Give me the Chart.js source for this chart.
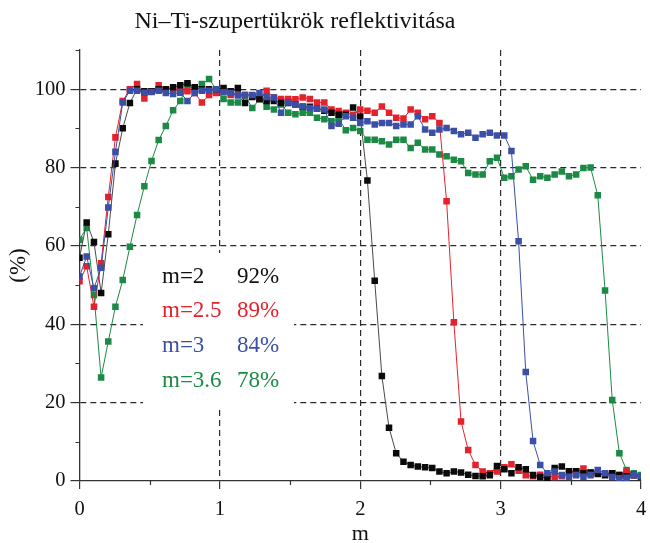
<!DOCTYPE html>
<html>
<head>
<meta charset="utf-8">
<script src="https://cdn.jsdelivr.net/npm/chart.js@4.4.1/dist/chart.umd.min.js"></script>
<style>
  html, body { margin: 0; padding: 0; background: #ffffff; }
  #wrap { width: 650px; height: 543px; position: relative; }
</style>
</head>
<body>
<div id="wrap"><canvas id="c" width="650" height="543"></canvas></div>
<script>
// ---- data ----
const chartTitle = 'Ni\u2013Ti-szupertükrök reflektivitása';
const xAxisTitle = 'm';
const yAxisTitle = '(%)';

const mValues = [0, 0.051, 0.103, 0.154, 0.205, 0.256, 0.308, 0.359, 0.410, 0.462,
  0.513, 0.564, 0.615, 0.667, 0.718, 0.769, 0.821, 0.872, 0.923, 0.974,
  1.026, 1.077, 1.128, 1.179, 1.231, 1.282, 1.333, 1.385, 1.436, 1.487,
  1.538, 1.590, 1.641, 1.692, 1.744, 1.795, 1.846, 1.897, 1.949, 2.000,
  2.051, 2.103, 2.154, 2.205, 2.256, 2.308, 2.359, 2.410, 2.462, 2.513,
  2.564, 2.615, 2.667, 2.718, 2.769, 2.821, 2.872, 2.923, 2.974, 3.026,
  3.077, 3.128, 3.179, 3.231, 3.282, 3.333, 3.385, 3.436, 3.487, 3.538,
  3.590, 3.641, 3.692, 3.744, 3.795, 3.846, 3.897, 3.949, 4.000];

const reflM2 = [57, 66, 61, 48, 63, 81, 90, 96.5, 100, 99.5,
  99.5, 100, 100, 100.5, 101, 101.5, 100.5, 100, 100, 100,
  100.3, 99.5, 100.3, 96.5, 98, 97.5, 97, 97, 96.5, 96.5,
  96, 95.5, 95.5, 95, 94.5, 94, 93.5, 93.5, 95.3, 93,
  76.7, 51.1, 26.8, 13.6, 7.1, 4.9, 4.1, 3.7, 3.5, 3.3,
  2.4, 2.0, 2.4, 2.2, 1.6, 1.3, 1.2, 1.5, 3.8, 3.0,
  2.0, 3.5, 3.0, 1.5, 1.0, 0.7, 3.3, 3.7, 2.5, 2.5,
  2.0, 2.2, 1.8, 1.5, 2.0, 1.5, 1.2, 1.5, 1.0];

const reflM25 = [51, 54.8, 44.5, 55.6, 72.5, 87.7, 97, 100, 101.3, 97.6,
  99.5, 101, 100, 100, 99.5, 99.5, 99, 96.6, 98.5, 99,
  99.6, 98.5, 99, 98.5, 98.4, 97.5, 99.6, 97.9, 97.5, 97.5,
  97.4, 97.9, 97.5, 96.6, 96.6, 94.8, 94.4, 94, 93.5, 94.8,
  94.5, 94, 95.6, 94, 92.7, 92.5, 94.8, 94, 92.3, 93.1,
  91.4, 71.4, 40.5, 15.2, 7.9, 4.1, 2.4, 2.0, 2.4, 3.5,
  4.3, 2.6, 1.5, 1.2, 1.6, 1.3, 1.0, 1.2, 2.0, 2.5,
  3.2, 2.2, 2.0, 1.8, 2.0, 1.5, 2.4, 1.5, 1.2];

const reflM3 = [52.2, 57.3, 49.2, 54.4, 69.8, 84, 96.6, 99.6, 99.6, 99.1,
  99.3, 99.6, 99, 98.8, 99.1, 97, 99, 99.6, 99.6, 100,
  99.2, 99, 98.4, 98.5, 98.5, 99, 98, 97.9, 94, 96.6,
  96, 95.6, 95.2, 95, 94.8, 90.6, 91.2, 93.1, 92.7, 91.4,
  91.8, 91, 91.4, 91.4, 90.6, 91, 91, 93.1, 89.7, 88.9,
  89.7, 90.1, 89.3, 88.5, 88.9, 87.6, 88.5, 88.9, 88.2, 88.2,
  84.2, 61.2, 27.8, 10.2, 4.1, 2.0, 2.4, 1.5, 1.1, 1.5,
  1.1, 1.5, 2.8, 2.0, 1.0, 0.7, 0.8, 1.5, 1.2];

const reflM36 = [61.6, 64.6, 47.5, 26.4, 35.6, 44.5, 51.3, 59.8, 67.9, 75.2,
  81.7, 87, 90.6, 94.6, 97, 101, 100, 101.3, 102.6, 100,
  97.5, 96.6, 96.6, 98.2, 95.2, 97.4, 95.5, 94.8, 96.1, 94,
  93.6, 94, 94, 92.7, 92.3, 91.8, 92.5, 89.5, 90.1, 89.3,
  87.1, 87.1, 86.7, 85.9, 87.1, 87.1, 85, 86.3, 84.6, 84.6,
  83.3, 82.9, 82, 81.6, 78.6, 78.2, 78.2, 81.6, 82.5, 77.4,
  77.8, 79.5, 80.3, 76.9, 77.8, 77.4, 78.2, 79, 77.8, 78.2,
  79.9, 80, 72.9, 48.6, 20.7, 7.1, 2.8, 2.0, 1.5];

const seriesNames = ['m=2', 'm=2.5', 'm=3', 'm=3.6'];
const seriesAverages = ['92%', '89%', '84%', '78%'];

const xTickLabels = [0, 1, 2, 3, 4];
const xMinorTicks = [0.5, 1.5, 2.5, 3.5];
const yTickLabels = [0, 20, 40, 60, 80, 100];
const yMinorTicks = [10, 30, 50, 70, 90, 110];

// ---- styles ----
const markerColors = ['#0a0a0a', '#e5222b', '#3b4fa6', '#1b8a44'];
const lineColors = ['#4a4a4a', '#e5222b', '#3b4fa6', '#1b8a44'];
const textColors = ['#111111', '#e5222b', '#3b4fa6', '#1b8a44'];
const drawOrder = [1, 2, 0, 3];
const serif = "'Liberation Serif', 'Times New Roman', serif";

const seriesValues = [reflM2, reflM25, reflM3, reflM36];

const datasets = seriesValues.map((vals, i) => ({
  label: seriesNames[i],
  data: vals.map((v, k) => ({ x: mValues[k], y: v })),
  borderColor: lineColors[i],
  borderWidth: 1,
  backgroundColor: markerColors[i],
  pointStyle: 'rect',
  pointRadius: 4.6,
  pointBorderWidth: 0,
  pointBackgroundColor: markerColors[i],
  pointBorderColor: markerColors[i],
  tension: 0,
  fill: false,
  order: drawOrder[i]
}));

const overlayPlugin = {
  id: 'overlay',
  beforeDatasetsDraw(chart) {
    const ctx = chart.ctx;
    ctx.save();
    // white box behind the in-plot legend
    ctx.fillStyle = '#ffffff';
    ctx.fillRect(143, 253, 151, 155);
    // minor ticks
    const xs = chart.scales.x, ys = chart.scales.y;
    ctx.strokeStyle = '#333';
    ctx.lineWidth = 1.2;
    ctx.beginPath();
    xMinorTicks.forEach(v => {
      const px = Math.round(xs.getPixelForValue(v)) + 0.5;
      ctx.moveTo(px, xs.top); ctx.lineTo(px, xs.top + 4);
    });
    yMinorTicks.forEach(v => {
      const py = Math.round(ys.getPixelForValue(v)) + 0.5;
      ctx.moveTo(ys.right, py); ctx.lineTo(ys.right - 4, py);
    });
    ctx.stroke();
    ctx.restore();
  },
  afterDraw(chart) {
    const ctx = chart.ctx;
    ctx.save();
    // main title
    ctx.fillStyle = '#111';
    ctx.font = '24px ' + serif;
    ctx.textAlign = 'center';
    ctx.textBaseline = 'alphabetic';
    ctx.fillText(chartTitle, 295, 28);
    // legend text
    ctx.font = '23px ' + serif;
    ctx.textAlign = 'left';
    const baselines = [283, 317, 352, 387];
    for (let i = 0; i < seriesNames.length; i++) {
      ctx.fillStyle = textColors[i];
      ctx.fillText(seriesNames[i], 162, baselines[i]);
      ctx.fillText(seriesAverages[i], 237, baselines[i]);
    }
    ctx.restore();
  }
};

new Chart(document.getElementById('c'), {
  type: 'line',
  data: { datasets },
  options: {
    responsive: false,
    animation: false,
    events: [],
    layout: { padding: { top: 50, right: 9, left: 0, bottom: 0 } },
    plugins: { legend: { display: false }, tooltip: { enabled: false }, title: { display: false } },
    scales: {
      x: {
        type: 'linear',
        min: 0, max: 4,
        afterFit(scale) { scale.height = 62; scale.paddingRight = 0; scale.paddingLeft = 0; },
        afterBuildTicks(scale) {
          scale.ticks = xTickLabels.map(v => ({ value: v }));
        },
        ticks: {
          autoSkip: false,
          maxRotation: 0,
          padding: 8,
          color: '#111',
          font: { family: serif, size: 20.5 },
          callback: (v) => String(v)
        },
        grid: {
          color: (c) => ([1, 2, 3].includes(c.tick && c.tick.value) ? '#2a2a2a' : 'rgba(0,0,0,0)'),
          lineWidth: 1.2,
          tickColor: '#333',
          tickLength: 8,
          drawOnChartArea: true
        },
        border: { color: '#333', width: 1.3, dash: [6, 4] },
        title: {
          display: true, text: xAxisTitle, color: '#111',
          font: { family: serif, size: 22, lineHeight: 0.8 },
          padding: { top: 0, bottom: 0 }
        }
      },
      y: {
        type: 'linear',
        min: 0, max: 110,
        afterFit(scale) { scale.width = 79.5; },
        afterBuildTicks(scale) {
          scale.ticks = yTickLabels.map(v => ({ value: v }));
        },
        ticks: {
          autoSkip: false,
          padding: 5,
          color: '#111',
          font: { family: serif, size: 20.5 },
          callback: (v) => String(v)
        },
        grid: {
          color: (c) => ([20, 40, 60, 80, 100].includes(c.tick && c.tick.value) ? '#2a2a2a' : 'rgba(0,0,0,0)'),
          lineWidth: 1.2,
          tickColor: '#333',
          tickLength: 9
        },
        border: { color: '#333', width: 1.3, dash: [6, 4] },
        title: {
          display: true, text: yAxisTitle, color: '#111',
          font: { family: serif, size: 23, lineHeight: 1 },
          padding: { top: 7, bottom: 0 }
        }
      }
    }
  },
  plugins: [overlayPlugin]
});
</script>
</body>
</html>
